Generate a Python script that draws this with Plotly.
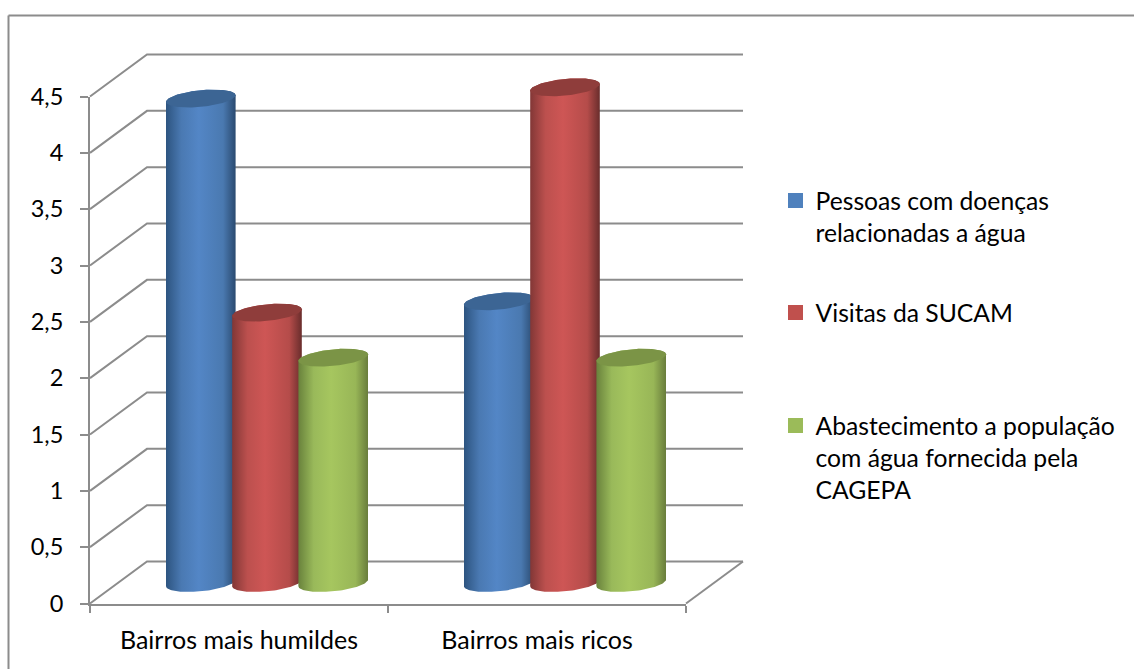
import numpy as np
import plotly.graph_objects as go

# ---- data ----
categories = ["Bairros mais humildes", "Bairros mais ricos"]
series_names = [
    "Pessoas com doenças<br>relacionadas a água",
    "Visitas da SUCAM",
    "Abastecimento a população<br>com água fornecida pela<br>CAGEPA",
]
pessoas = [4.3, 2.5]
visitas = [2.4, 4.4]
abastecimento = [2.0, 2.0]
y_ticks = [0, 0.5, 1, 1.5, 2, 2.5, 3, 3.5, 4, 4.5]

# ---- page geometry ----
W, H = 1134, 669
X_FRONT_LEFT, X_FRONT_RIGHT = 90, 686      # category axis, px
Y_ZERO, Y_TOP = 603.5, 96.5                # value axis, px
PX_CAT = (X_FRONT_RIGHT - X_FRONT_LEFT) / len(categories)
PX_VAL = (Y_ZERO - Y_TOP) / y_ticks[-1]
X_CAT0 = X_FRONT_LEFT + PX_CAT / 2


def xr(px):
    return (px - X_CAT0) / PX_CAT


def yr(py):
    return (Y_ZERO - py) / PX_VAL


# oblique depth of the 3-D box, and cylinder placement, in axis units
DEPTH_X, DEPTH_Y = 57 / PX_CAT, 42 / PX_VAL
BAR_SHIFT_X, BAR_SHIFT_Y = 28 / PX_CAT, 20.5 / PX_VAL
BAR_STEP = 66.2 / PX_CAT
ELL_A, ELL_B, ELL_C = 34.8 / PX_CAT, 8.3 / PX_VAL, 3.3 / PX_VAL

GRID = "#8C8C8C"
LINE_W = 2
TEXT = "#000000"
FONT = "Lato"
FONT_SIZE = 24.7
TICK_SIZE = 23.5

stop_pos = [0, 0.22, 0.47, 0.82, 1]
styles = [
    dict(key="#4F81BD", cap="#3C6594",
         stops=["#2D5480", "#4A79B2", "#5386C6", "#4A79B0", "#2A4A70"]),
    dict(key="#C0504D", cap="#8F3D3B",
         stops=["#823736", "#BC504E", "#CE5655", "#B54C4A", "#692D2C"]),
    dict(key="#9BBB59", cap="#7B9446",
         stops=["#69823C", "#99B95A", "#A6C65F", "#98B657", "#697D3C"]),
]
all_values = [pessoas, visitas, abastecimento]

fig = go.Figure()

# receding grid lines of the box (with the right-hand floor edge)
gx, gy = [], []
for v in y_ticks:
    gx += [-0.5, -0.5 + DEPTH_X, 1.5 + DEPTH_X, None]
    gy += [v, v + DEPTH_Y, v + DEPTH_Y, None]
gx += [1.5, 1.5 + DEPTH_X]
gy += [0, DEPTH_Y]
fig.add_trace(go.Scatter(x=gx, y=gy, mode="lines", line=dict(color=GRID, width=LINE_W),
                         showlegend=False, hoverinfo="skip"))

tt = np.linspace(0, 2 * np.pi, 121)
lower = np.linspace(np.pi, 0, 61)
upper = np.linspace(0, np.pi, 61)

for ci in range(len(categories)):
    for si, (vals, st) in enumerate(zip(all_values, styles)):
        v = vals[ci]
        cx = ci + BAR_SHIFT_X + (si - 1) * BAR_STEP
        y0 = BAR_SHIFT_Y
        # body: lower arc at the floor, upper arc at the value
        bx = np.r_[cx + ELL_A * np.cos(lower), cx + ELL_A * np.cos(upper)]
        by = np.r_[y0 - ELL_B * np.sin(lower) + ELL_C * np.cos(lower),
                   y0 + v + ELL_B * np.sin(upper) + ELL_C * np.cos(upper)]
        scale = [[p, c] for p, c in zip(stop_pos, st["stops"])]
        fig.add_trace(go.Scatter(
            x=bx, y=by, mode="lines", line=dict(width=0), fill="toself",
            fillgradient=dict(type="horizontal", colorscale=scale),
            showlegend=False, hoverinfo="skip"))
        # cap
        fig.add_trace(go.Scatter(
            x=cx + ELL_A * np.cos(tt),
            y=y0 + v + ELL_B * np.sin(tt) + ELL_C * np.cos(tt),
            mode="lines", line=dict(width=0), fill="toself", fillcolor=st["cap"],
            showlegend=False, hoverinfo="skip"))

# real axes (category ticks on boundaries), carried by an invisible data trace
fig.add_trace(go.Scatter(x=categories, y=pessoas, xaxis="x2", yaxis="y2", mode="none",
                         showlegend=False, hoverinfo="skip"))

# legend: one box per entry, placed as in the reference
legend_tops = [178, 290, 403]
for i, (name, st) in enumerate(zip(series_names, styles)):
    fig.add_trace(go.Scatter(
        x=[None], y=[None], name=name, mode="markers",
        marker=dict(symbol="square", size=15, color=st["key"]),
        legend="legend" if i == 0 else f"legend{i + 1}",
        showlegend=True))


def legend_box(top):
    return dict(x=775.5 / W, y=1 - top / H, xanchor="left", yanchor="top",
                bgcolor="rgba(0,0,0,0)", borderwidth=0, valign="top",
                font=dict(family=FONT, size=FONT_SIZE, color=TEXT))


fig.update_layout(
    width=W, height=H, autosize=False,
    margin=dict(l=0, r=0, t=0, b=0, pad=0, autoexpand=False),
    paper_bgcolor="white", plot_bgcolor="rgba(0,0,0,0)",
    separators=", ",
    font=dict(family=FONT, size=FONT_SIZE, color=TEXT),
    legend=legend_box(legend_tops[0]),
    legend2=legend_box(legend_tops[1]),
    legend3=legend_box(legend_tops[2]),
    xaxis=dict(domain=[0, 1], range=[xr(0), xr(W)], visible=False, fixedrange=True),
    yaxis=dict(domain=[0, 1], range=[yr(H), yr(0)], visible=False, fixedrange=True),
    xaxis2=dict(domain=[X_FRONT_LEFT / W, X_FRONT_RIGHT / W], anchor="y2",
                type="category", categoryorder="array", categoryarray=categories,
                range=[-0.5, 1.5], tickson="boundaries", ticks="outside", ticklen=7,
                tickwidth=LINE_W, tickcolor=GRID, showline=True, linecolor=GRID, linewidth=LINE_W,
                showgrid=False, zeroline=False, ticklabelstandoff=13,
                tickfont=dict(family=FONT, size=25, color=TEXT)),
    yaxis2=dict(domain=[1 - Y_ZERO / H, 1 - Y_TOP / H], anchor="x2",
                range=[0, 4.5], tickmode="array", tickvals=y_ticks,
                ticktext=[str(v).replace(".", ",") for v in y_ticks],
                ticks="outside", ticklen=8, tickwidth=LINE_W, tickcolor=GRID,
                showline=True, linecolor=GRID, linewidth=LINE_W, showgrid=False,
                zeroline=False, ticklabelstandoff=12,
                tickfont=dict(family=FONT, size=TICK_SIZE, color=TEXT)),
    shapes=[
        dict(type="line", xref="paper", yref="paper", x0=8.5 / W, x1=1, y0=1 - 15.5 / H,
             y1=1 - 15.5 / H, line=dict(color=GRID, width=LINE_W)),
        dict(type="line", xref="paper", yref="paper", x0=8.5 / W, x1=8.5 / W, y0=0,
             y1=1 - 15.5 / H, line=dict(color=GRID, width=LINE_W)),
    ],
)

fig.write_html("out.html", config=dict(displayModeBar=False),
               post_script="document.body.style.margin='0';window.dispatchEvent(new Event('resize'));")
